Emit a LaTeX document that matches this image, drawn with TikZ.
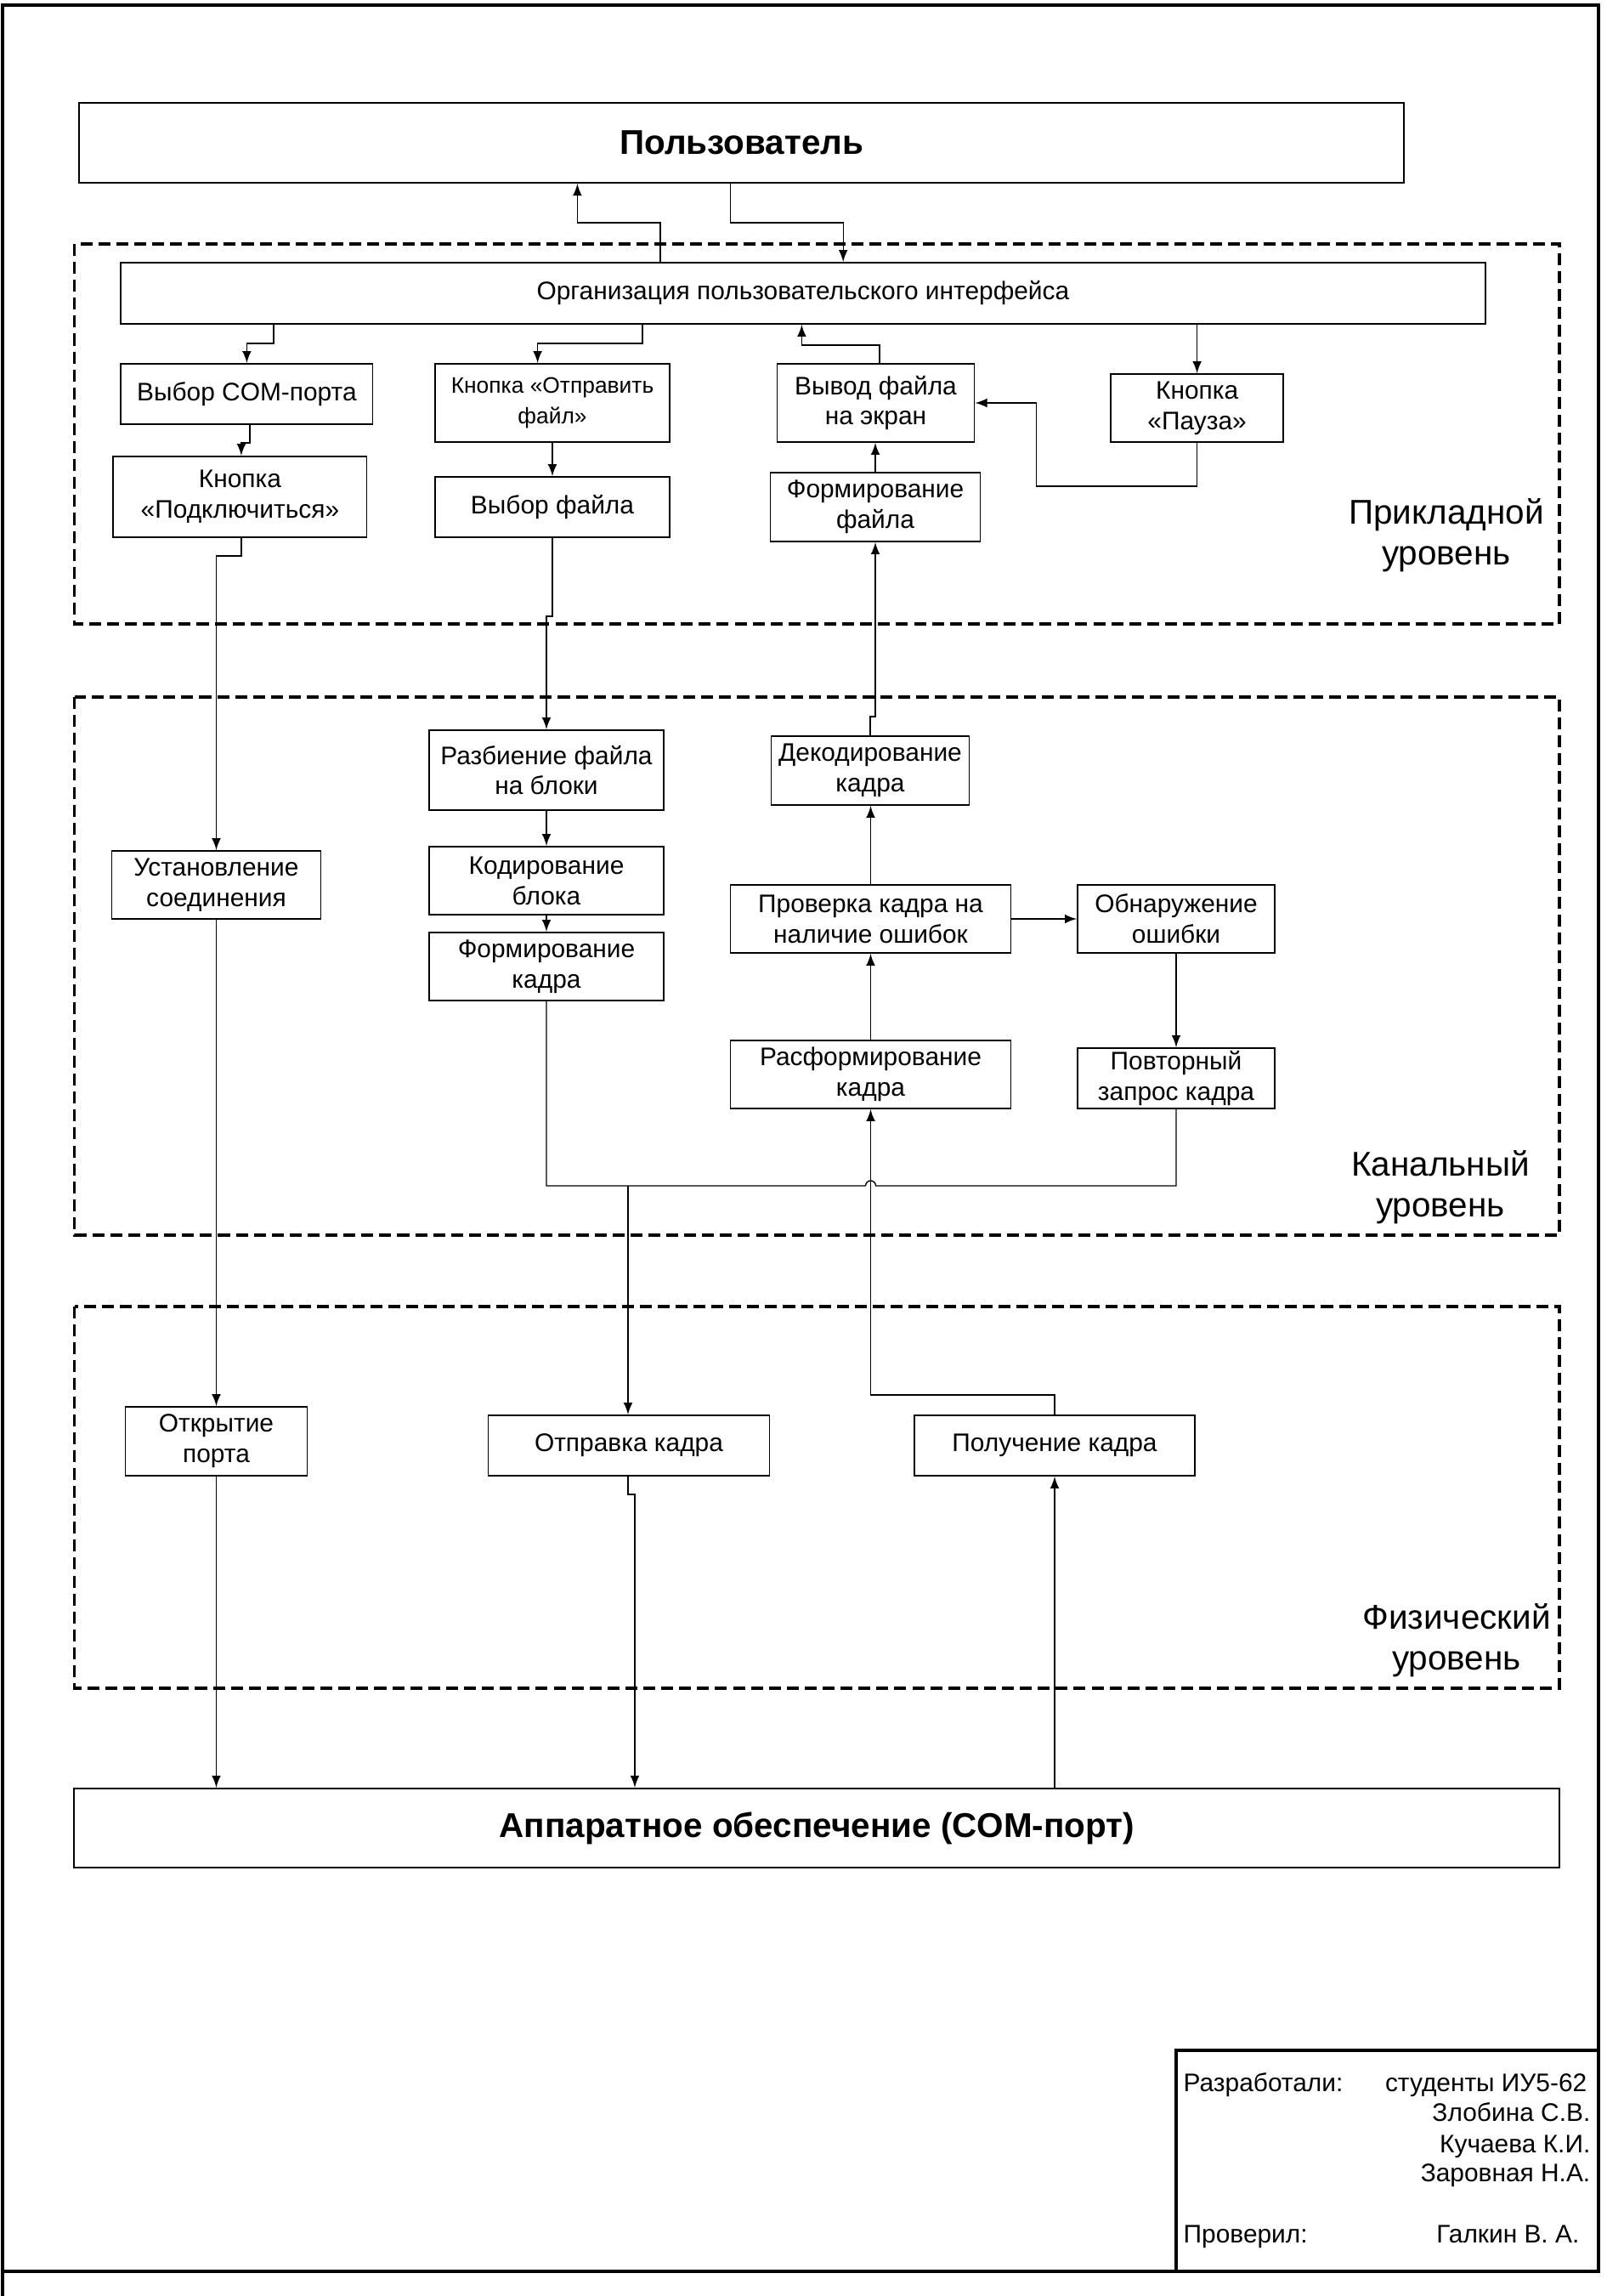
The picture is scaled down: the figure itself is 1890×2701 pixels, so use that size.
\documentclass[tikz,border=0pt]{standalone}
\usepackage{fontspec}
\setmainfont{Liberation Sans}
\usepackage{tikz}
\tikzset{>=latex}
\tikzset{
  blk/.style={draw, line width=0.5pt, align=center, inner sep=1pt,
    font=\fontsize{8.5}{10.2}\selectfont},
  big/.style={draw, line width=0.6pt, font=\fontsize{11.5}{13.8}\selectfont\bfseries},
  layer/.style={line width=0.9pt, dash pattern=on 4pt off 2pt},
  lvlname/.style={align=center, font=\fontsize{11.5}{13.6}\selectfont},
  sign/.style={inner sep=0pt, font=\fontsize{8.5}{10.2}\selectfont},
  lnk/.style={line width=0.4pt}
}

\begin{document}
\begin{tikzpicture}[x=0.01cm, y=-0.01cm]
        \useasboundingbox (0,0) rectangle (1890,2701);

        \draw[line width=1pt] (3,2701) -- (3,6) -- (1881,6) -- (1881,2672) -- (3,2672);
        \draw[line width=1pt] (1384,2672) -- (1384,2412) -- (1881,2412);

        \draw[layer] (87.7,287) rectangle (1835,734);
        \draw[layer] (87.7,820) rectangle (1835,1453);
        \draw[layer] (87.7,1537) rectangle (1835,1986);

        \node[big, minimum width=15.58cm, minimum height=0.94cm] (user) at (872.6,168) {Пользователь};
        \node[blk, minimum width=16.05cm, minimum height=0.72cm] (ui) at (944.9,345) {Организация пользовательского интерфейса};
        \node[blk, minimum width=2.96cm, minimum height=0.71cm] (com) at (290.4,463.5) {Выбор COM-порта};
        \node[blk, minimum width=2.76cm, minimum height=0.92cm, font=\fontsize{7.5}{10.2}\selectfont] (send) at (650,474) {Кнопка «Отправить\\файл»};
        \node[blk, minimum width=2.32cm, minimum height=0.92cm] (show) at (1030.5,474) {Вывод файла\\на экран};
        \node[blk, minimum width=2.03cm, minimum height=0.80cm] (pause) at (1408.6,480) {Кнопка\\«Пауза»};
        \node[blk, minimum width=2.98cm, minimum height=0.95cm] (connect) at (282.4,584.5) {Кнопка\\«Подключиться»};
        \node[blk, minimum width=2.76cm, minimum height=0.71cm] (choose) at (650,596.5) {Выбор файла};
        \node[blk, minimum width=2.47cm, minimum height=0.81cm] (mkfile) at (1030,596.5) {Формирование\\файла};

        \node[blk, minimum width=2.76cm, minimum height=0.94cm] (split) at (643,906) {Разбиение файла\\на блоки};
        \node[blk, minimum width=2.33cm, minimum height=0.81cm] (decode) at (1024,906.5) {Декодирование\\кадра};
        \node[blk, minimum width=2.46cm, minimum height=0.80cm] (conn) at (254.5,1041) {Установление\\соединения};
        \node[blk, minimum width=2.76cm, minimum height=0.80cm] (encode) at (643,1036) {Кодирование\\блока};
        \node[blk, minimum width=2.76cm, minimum height=0.80cm] (frame) at (643,1137) {Формирование\\кадра};
        \node[blk, minimum width=3.30cm, minimum height=0.80cm] (check) at (1024.5,1081) {Проверка кадра на\\наличие ошибок};
        \node[blk, minimum width=2.32cm, minimum height=0.80cm] (err) at (1384,1081) {Обнаружение\\ошибки};
        \node[blk, minimum width=3.30cm, minimum height=0.80cm] (unframe) at (1024.5,1264) {Расформирование\\кадра};
        \node[blk, minimum width=2.32cm, minimum height=0.71cm] (resend) at (1384,1268.5) {Повторный\\запрос кадра};

        \node[blk, minimum width=2.14cm, minimum height=0.81cm] (open) at (254.5,1695.5) {Открытие\\порта};
        \node[blk, minimum width=3.31cm, minimum height=0.71cm] (tx) at (740,1700.5) {Отправка кадра};
        \node[blk, minimum width=3.30cm, minimum height=0.71cm] (rx) at (1241,1700.5) {Получение кадра};
        \node[big, minimum width=17.47cm, minimum height=0.93cm] (hw) at (961.3,2150.5) {Аппаратное обеспечение (COM-порт)};

        \node[lvlname] (app) at (1702,630) {Прикладной\\уровень};
        \node[lvlname] (chan) at (1695,1397) {Канальный\\уровень};
        \node[lvlname] (phys) at (1714,1930) {Физический\\уровень};

        \node[sign, anchor=base west] (dev) at (1392,2460) {Разработали:};
        \node[sign, anchor=base east] (grp) at (1868,2460) {студенты ИУ5-62};
        \node[sign, anchor=base east] (n1) at (1872,2495) {Злобина С.В.};
        \node[sign, anchor=base east] (n2) at (1872,2532) {Кучаева К.И.};
        \node[sign, anchor=base east] (n3) at (1872,2566) {Заровная Н.А.};
        \node[sign, anchor=base west] (chk) at (1392,2638) {Проверил:};
        \node[sign, anchor=base east] (boss) at (1859,2638) {Галкин В. А.};

        \coordinate (k1) at (777,262);
        \coordinate (k2) at (679.4,262);
        \coordinate (k3) at (859.7,262);
        \coordinate (k4) at (992.2,262);
        \coordinate (k5) at (321.8,404);
        \coordinate (k6) at (290.4,404);
        \coordinate (k7) at (756,404);
        \coordinate (k8) at (632.6,404);
        \coordinate (k9) at (1035,406);
        \coordinate (k10) at (943.4,406);
        \coordinate (k11) at (293.9,521);
        \coordinate (k12) at (283.9,521);
        \coordinate (k13) at (1408.6,572);
        \coordinate (k14) at (1219.3,572);
        \coordinate (k15) at (1219.3,474);
        \coordinate (k16) at (283.9,654);
        \coordinate (k17) at (254.5,654);
        \coordinate (k18) at (650,725);
        \coordinate (k19) at (643,725);
        \coordinate (k20) at (1024,843);
        \coordinate (k21) at (1030,843);
        \coordinate (k22) at (643,1395);
        \coordinate (k23) at (1384,1395);
        \coordinate (k24) at (1018.5,1395);
        \coordinate (k25) at (739,1395);
        \coordinate (k26) at (1241,1641);
        \coordinate (k27) at (1024.5,1641);
        \coordinate (k28) at (739,1758);
        \coordinate (k29) at (747,1758);

        \draw[lnk,->] (ui.north -| k1) -- (k1) -- (k2) -- (user.south -| k2);
        \draw[lnk,->] (user.south -| k3) -- (k3) -- (k4) -- (ui.north -| k4);
        \draw[lnk,->] (ui.south -| k5) -- (k5) -- (k6) -- (com.north);
        \draw[lnk,->] (ui.south -| k7) -- (k7) -- (k8) -- (send.north -| k8);
        \draw[lnk,->] (show.north -| k9) -- (k9) -- (k10) -- (ui.south -| k10);
        \draw[lnk,->] (ui.south -| pause.north) -- (pause.north);
        \draw[lnk,->] (com.south -| k11) -- (k11) -- (k12) -- (connect.north -| k12);
        \draw[lnk,->] (send.south) -- (choose.north);
        \draw[lnk,->] (mkfile.north) -- (show.south -| mkfile.north);
        \draw[lnk,->] (pause.south) -- (k13) -- (k14) -- (k15) -- (show.east |- k15);
        \draw[lnk,->] (connect.south -| k16) -- (k16) -- (k17) -- (conn.north);
        \draw[lnk,->] (conn.south) -- (open.north);
        \draw[lnk,->] (open.south) -- (hw.north -| open.south);
        \draw[lnk,->] (choose.south) -- (k18) -- (k19) -- (split.north);
        \draw[lnk,->] (split.south) -- (encode.north);
        \draw[lnk,->] (encode.south) -- (frame.north);
        \draw[lnk,->] (decode.north) -- (k20) -- (k21) -- (mkfile.south -| k21);
        \draw[lnk,->] (check.north) -- (decode.south -| check.north);
        \draw[lnk,->] (check.east) -- (err.west);
        \draw[lnk,->] (err.south) -- (resend.north);
        \draw[lnk,->] (unframe.north) -- (check.south);
        \draw[lnk] (frame.south) -- (k22) -- (k24) arc[start angle=180, end angle=0, radius=0.06cm] -- (k23) -- (resend.south);
        \draw[lnk,->] (k25) -- (tx.north -| k25);
        \draw[lnk,->] (rx.north) -- (k26) -- (k27) -- (unframe.south);
        \draw[lnk,->] (tx.south -| k28) -- (k28) -- (k29) -- (hw.north -| k29);
        \draw[lnk,->] (hw.north -| rx.south) -- (rx.south);
    \end{tikzpicture}
\end{document}
